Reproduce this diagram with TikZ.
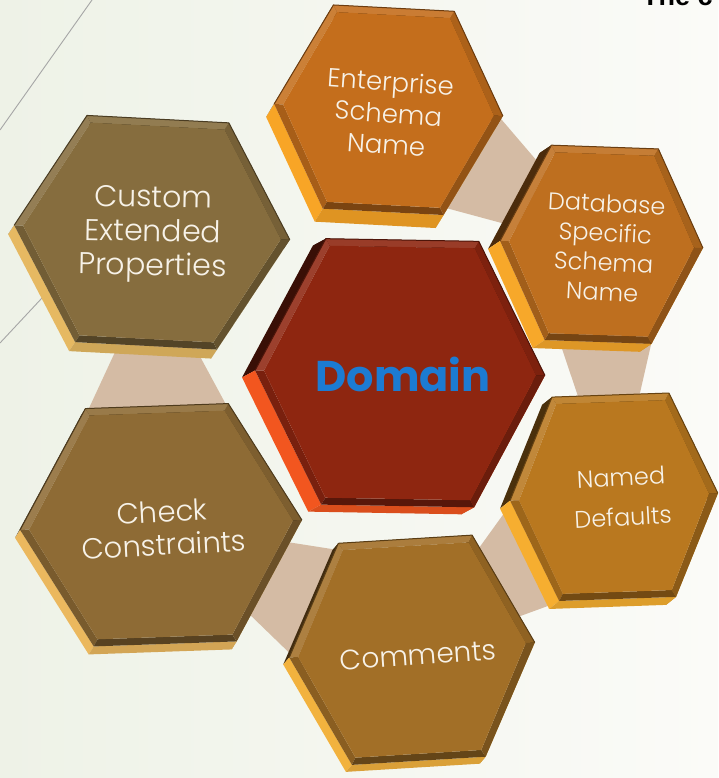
\documentclass[tikz,border=0pt]{standalone}
\usepackage{fontspec}
\setmainfont{Poppins}
\newfontfamily\hexfont{Poppins Light}
\newfontfamily\titlefont{Liberation Sans}
\usetikzlibrary{calc}
\definecolor{bgL}{HTML}{EEF2E7}
\definecolor{bgR}{HTML}{FBFBF8}
\definecolor{conn}{HTML}{D4BBA4}
\definecolor{txt}{HTML}{F7F2E8}
\definecolor{domF}{HTML}{8E2610}
\definecolor{domE}{HTML}{F2561F}
\definecolor{entF}{HTML}{C46E1C}
\definecolor{entE}{HTML}{F8A526}
\definecolor{dbF}{HTML}{BE6F1F}
\definecolor{dbE}{HTML}{F7A82A}
\definecolor{ndF}{HTML}{B9781F}
\definecolor{ndE}{HTML}{F6AE30}
\definecolor{comF}{HTML}{A26F27}
\definecolor{comE}{HTML}{F2B23E}
\definecolor{chkF}{HTML}{8E6B35}
\definecolor{chkE}{HTML}{EBB85E}
\definecolor{cusF}{HTML}{866D3E}
\definecolor{cusE}{HTML}{E6B962}
\definecolor{domT}{HTML}{1C7BD2}

\newcommand{\hq}[5]{\fill[#5] (#1) -- (#2) -- (#3) -- (#4) -- cycle;}

% #1 centre, #2 half width, #3 half top edge, #4 half height, #5 rotation,
% #6 face colour, #7 bevel colour, #8 #9 extrusion (left, down)
\newcommand{\hexplate}[9]{%
  \begin{scope}[shift={(#1)}, rotate=#5]
    \coordinate (p0) at (#2,0);
    \coordinate (p1) at (#3,#4);
    \coordinate (p2) at (-#3,#4);
    \coordinate (p3) at (-#2,0);
    \coordinate (p4) at (-#3,-#4);
    \coordinate (p5) at (#3,-#4);
    \coordinate (r0) at (#2-9,0);
    \coordinate (r1) at (#3-4,#4-7);
    \coordinate (r2) at (-#3+4,#4-7);
    \coordinate (r3) at (-#2+9,0);
    \coordinate (r4) at (-#3+4,-#4+7);
    \coordinate (r5) at (#3-4,-#4+7);
  \end{scope}
  \foreach \i in {0,...,5}{\coordinate (e\i) at ($(p\i)+(-#8,-#9)$);}
  \hq{p0}{p1}{e1}{e0}{#6!40!black}
  \hq{p1}{p2}{e2}{e1}{#6!40!black}
  \hq{p5}{p0}{e0}{e5}{#7!78!black}
  \hq{p2}{p3}{e3}{e2}{#6!40!black}
  \hq{p3}{p4}{e4}{e3}{#7}
  \hq{p4}{p5}{e5}{e4}{#7!90!black}
  \hq{p0}{p1}{r1}{r0}{#6!88!black}
  \hq{p1}{p2}{r2}{r1}{#6!90!white}
  \hq{p2}{p3}{r3}{r2}{#6!88!white}
  \hq{p3}{p4}{r4}{r3}{#6!85!black}
  \hq{p4}{p5}{r5}{r4}{#6!62!black}
  \hq{p5}{p0}{r0}{r5}{#6!75!black}
  \fill[#6] (r0) -- (r1) -- (r2) -- (r3) -- (r4) -- (r5) -- cycle;
  \draw[#6!55!black, line width=1pt, line join=round] (p3) -- (p2) -- (p1) -- (p0);
}

% connector band between two hexagons
\newcommand{\band}[4]{%
  \fill[conn] ($(#1)!0.3!(#2)!#3!90:(#2)$) -- ($(#1)!0.75!(#2)!#4!90:(#2)$)
    -- ($(#1)!0.75!(#2)!#4!-90:(#2)$) -- ($(#1)!0.3!(#2)!#3!-90:(#2)$) -- cycle;}

\tikzset{
  hextext/.style={text=txt, align=center, inner sep=0pt},
  bgline/.style={draw=black!35, line width=0.9pt},
}

\begin{document}
\begin{tikzpicture}[x=1pt,y=1pt]
\useasboundingbox (0,0) rectangle (718,778);
\clip (0,0) rectangle (718,778);
\shade[left color=bgL, right color=bgR] (0,0) rectangle (718,778);

% background decoration
\coordinate (l1a) at (92,778);
\coordinate (l1b) at (0,648);
\coordinate (l2a) at (0,435);
\coordinate (l2b) at (70,510);
\draw[bgline] (l1a) -- (l1b);
\draw[bgline] (l2a) -- (l2b);

\node[anchor=base west, inner sep=0pt, font=\titlefont\bfseries\fontsize{27}{30}\selectfont] (ttl) at (642,772) {The c};

% centres
\coordinate (dom) at (400,405);
\coordinate (ent) at (388.5,668);
\coordinate (db)  at (601.5,533.5);
\coordinate (nd)  at (614,281);
\coordinate (com) at (412,128);
\coordinate (chk) at (161,253);
\coordinate (cus) at (152,545.5);

% connectors
\band{ent}{db}{60pt}{25pt}
\band{db}{nd}{52pt}{20pt}
\band{nd}{com}{60pt}{25pt}
\band{com}{chk}{65pt}{25pt}
\band{chk}{cus}{84pt}{18pt}

% hexagons
\hexplate{ent}{114.5}{60.5}{102}{-3}{entF}{entE}{8}{13}
\hexplate{db}{101.5}{53.5}{97.5}{-2}{dbF}{dbE}{12}{8}
\hexplate{nd}{104}{58.5}{102}{2}{ndF}{ndE}{10}{8}
\hexplate{com}{123}{67}{111}{3.5}{comF}{comE}{6}{7}
\hexplate{chk}{141}{71.5}{119}{2}{chkF}{chkE}{5}{8}
\hexplate{cus}{138}{71}{113.5}{-3}{cusF}{cusE}{6}{9}
\hexplate{dom}{145}{76.5}{133}{-1}{domF}{domE}{13}{7}

% labels
\node[hextext, rotate=-4, font=\hexfont\fontsize{26}{31.5}\selectfont] (entT) at ($(ent)+(0,-3)$) {Enterprise\\Schema\\Name};
\node[hextext, rotate=-3, font=\hexfont\fontsize{24}{29.5}\selectfont] (dbT) at ($(db)+(3,-3)$) {Database\\Specific\\Schema\\Name};
\node[hextext, rotate=3, font=\hexfont\fontsize{24}{40}\selectfont] (ndT) at ($(nd)+(8,0)$) {Named\\Defaults};
\node[hextext, rotate=4, font=\hexfont\fontsize{28}{34}\selectfont] (comT) at ($(com)+(6,-5)$) {Comments};
\node[hextext, rotate=3, font=\hexfont\fontsize{29}{33}\selectfont] (chkT) at ($(chk)+(2,-3)$) {Check\\Constraints};
\node[hextext, rotate=-1, font=\hexfont\fontsize{30}{34}\selectfont] (cusT) at ($(cus)+(1,-2)$) {Custom\\Extended\\Properties};
\node[text=domT, inner sep=0pt, font=\bfseries\fontsize{43}{48}\selectfont] (domT) at ($(dom)+(3,-1)$) {Domain};
\end{tikzpicture}
\end{document}
